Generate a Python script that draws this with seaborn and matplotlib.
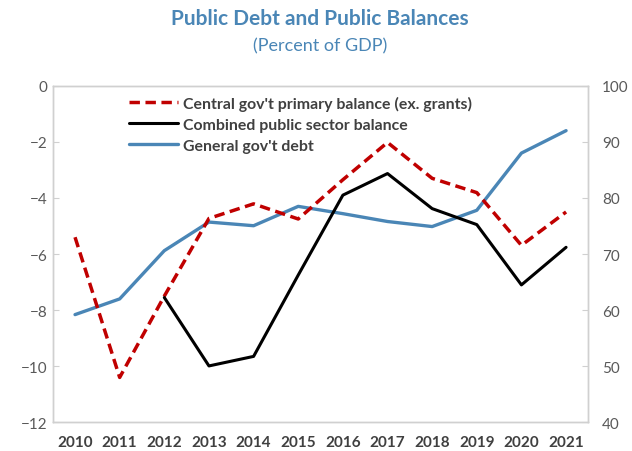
import matplotlib
matplotlib.use('Agg')
import matplotlib.pyplot as plt
import seaborn as sns
import pandas as pd

# data
years = [2010, 2011, 2012, 2013, 2014, 2015, 2016, 2017, 2018, 2019, 2020, 2021]
primary_balance = [-5.4, -10.4, -7.5, -4.73, -4.21, -4.75, -3.35, -2.02, -3.3, -3.81, -5.69, -4.5]
combined_balance = [None, None, -7.55, -9.99, -9.65, -6.75, -3.9, -3.13, -4.38, -4.95, -7.1, -5.76]
gen_debt = [59.2, 62.0, 70.6, 75.7, 75.05, 78.5, 77.2, 75.8, 74.9, 77.8, 88.0, 92.0]

labels = ["Central gov't primary balance (ex. grants)",
          "Combined public sector balance",
          "General gov't debt"]

df = pd.DataFrame({'x': range(len(years)),
                   'primary': primary_balance,
                   'combined': pd.array(combined_balance, dtype='Float64').astype(float),
                   'debt': gen_debt})

sns.set_style('white')
plt.rcParams['font.family'] = ['Lato', 'DejaVu Sans']

red = '#C00000'
blue = '#4A86B6'
spine_col = '#D0D0D0'
tick_col = '#595959'

fig = plt.figure(figsize=(6.32, 4.52), dpi=100)
ax = fig.add_axes([0.0834, 0.0635, 0.931 - 0.0834, 0.808 - 0.0635])
ax2 = ax.twinx()

sns.lineplot(data=df, x='x', y='primary', ax=ax, color=red, linewidth=2.5,
             linestyle=(0, (3, 1.6)), label=labels[0], legend=False)
sns.lineplot(data=df, x='x', y='combined', ax=ax, color='black', linewidth=2.2,
             label=labels[1], legend=False)
sns.lineplot(data=df, x='x', y='debt', ax=ax2, color=blue, linewidth=2.4,
             label=labels[2], legend=False)

ax.set_xlim(-0.5, len(years) - 0.5)
ax.set_ylim(-12, 0)
ax.set_yticks(range(-12, 1, 2))
ax2.set_ylim(40, 100)
ax2.set_yticks(range(40, 101, 10))

ax.set_xticks(range(len(years)))
ax.set_xticklabels([str(y) for y in years], fontsize=11, fontweight='bold', color='#404040')
ax.set_xlabel('')
ax.set_ylabel('')
ax2.set_ylabel('')

ax.tick_params(axis='y', direction='in', length=4.5, color=spine_col, labelsize=11,
               labelcolor=tick_col, pad=4)
ax.tick_params(axis='x', length=0, pad=9)
ax2.tick_params(axis='y', direction='in', length=4.5, color=spine_col, labelsize=11,
                labelcolor=tick_col, pad=10)

for a in (ax, ax2):
    for s in a.spines.values():
        s.set_color(spine_col)
        s.set_linewidth(1.0)

h1, l1 = ax.get_legend_handles_labels()
h2, l2 = ax2.get_legend_handles_labels()
leg = ax.legend(h1 + h2, l1 + l2, loc='upper left', bbox_to_anchor=(0.13, 0.99),
                frameon=False, handlelength=3.1, handletextpad=0.3, labelspacing=0.45,
                borderaxespad=0, prop={'size': 11.4, 'weight': 'bold'})
for t in leg.get_texts():
    t.set_color('#404040')
ax.set_zorder(ax2.get_zorder() + 1)
ax.patch.set_visible(False)

fig.text(0.506, 0.958, 'Public Debt and Public Balances', ha='center', va='center',
         fontsize=15, fontweight='bold', color=blue)
fig.text(0.506, 0.897, '(Percent of GDP)', ha='center', va='center',
         fontsize=13, color=blue)

fig.savefig('out.png', dpi=100)
